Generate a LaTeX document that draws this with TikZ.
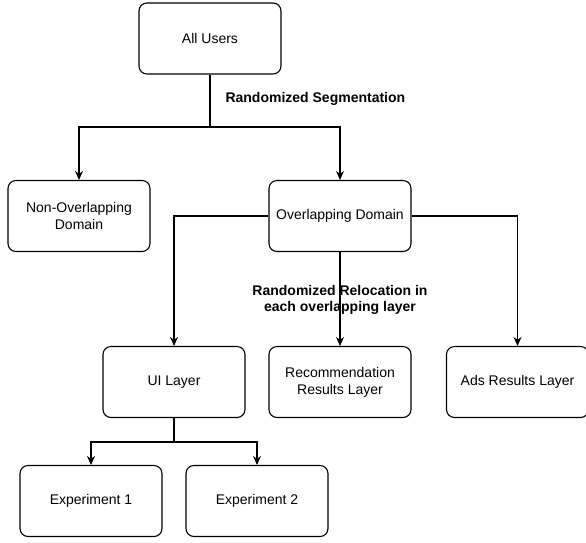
\documentclass[tikz,border=0pt]{standalone}
\usepackage{fontspec}
\setmainfont{Liberation Sans}
\usetikzlibrary{arrows.meta}
\begin{document}
\begin{tikzpicture}[x=1pt, y=-1pt,
  box/.style={draw, rounded corners=8pt, minimum width=142pt, minimum height=71pt,
    align=center, line width=1.1pt, font=\fontsize{14}{16.8}\selectfont},
  lbl/.style={font=\fontsize{14}{16.8}\selectfont\bfseries, align=center},
  arr/.style={-{Stealth[length=9pt,width=8pt]}, line width=1.1pt}]
  \useasboundingbox (0,0) rectangle (586,542);
  \node [box] (all) at (210,38.5) {All Users};
  \node [box] (nonov) at (79,216) {Non-Overlapping\\Domain};
  \node [box] (ov) at (340,216) {Overlapping Domain};
  \node [box] (ui) at (174,382) {UI Layer};
  \node [box] (rec) at (340,382) {Recommendation\\Results Layer};
  \node [box] (ads) at (517.5,382) {Ads Results Layer};
  \node [box] (exp1) at (91,501) {Experiment 1};
  \node [box] (exp2) at (257,501) {Experiment 2};
  \coordinate (seg) at (210,127);
  \coordinate (uisplit) at (174,442);
  \draw [line width=1.1pt] (all) -- (seg);
  \draw [arr] (seg) -| (nonov);
  \draw [arr] (seg) -| (ov);
  \draw [arr] (ov.west) -| (ui);
  \draw [arr] (ov) -- (rec);
  \draw [arr] (ov.east) -| (ads);
  \draw [line width=1.1pt] (ui) -- (uisplit);
  \draw [arr] (uisplit) -| (exp1);
  \draw [arr] (uisplit) -| (exp2);
  \node [lbl, anchor=west] (seglbl) at (222,98.5) {Randomized Segmentation};
  \node [lbl] (reloclbl) at (340,300) {Randomized Relocation in\\each overlapping layer};
\end{tikzpicture}
\end{document}
